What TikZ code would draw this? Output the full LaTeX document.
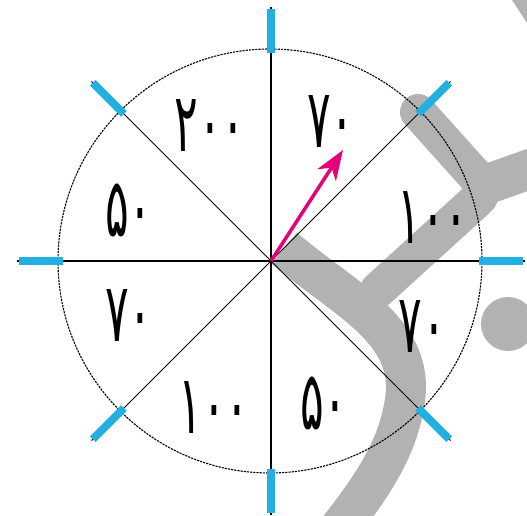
\documentclass[tikz,border=0pt]{standalone}
\usepackage{fontspec}
\usepackage{graphicx}
\newfontfamily\fafont[Script=Arabic]{DejaVu Sans}
\usetikzlibrary{arrows.meta}
\definecolor{tickc}{RGB}{35,175,225}
\definecolor{arrc}{RGB}{228,0,120}
\definecolor{wmc}{RGB}{178,178,178}
\tikzset{
  wmband/.style={draw=wmc, line width=36pt, line join=round, line cap=round},
  wmtail/.style={draw=wmc, line width=40pt, line cap=butt},
  circline/.style={draw=black, line width=1.1pt, dash pattern=on 2.2pt off 1pt},
  axisline/.style={draw=black, line width=1.4pt},
  diagline/.style={draw=black, line width=1pt},
  tickline/.style={draw=tickc, line width=8pt},
  arrline/.style={draw=arrc, line width=3.5pt, -{Stealth[length=30pt,width=22pt,inset=9pt]}},
  num/.style={font=\fafont\fontsize{42}{42}\selectfont, inner sep=0pt, anchor=center}
}
\newcommand{\tallnum}[1]{\scalebox{1.05}[1.95]{#1}}
\begin{document}
\begin{tikzpicture}[x=1pt,y=-1pt]
\useasboundingbox (0,0) rectangle (527,516);
\fill[white] (0,0) rectangle (527,516);
% watermark
\draw[wmband, rounded corners=14pt] (418,112) -- (488,190) -- (378,290);
\draw[wmband, line width=40pt] (482,186) -- (550,162);
\draw[wmtail] (284,248) .. controls (345,300) and (415,330) .. (405,400) .. controls (398,450) and (370,490) .. (330,540);
\fill[wmc] (508,324) circle (27pt);
\fill[wmc] (512,0) -- (527,0) -- (527,23) -- cycle;
% geometry
\coordinate (O) at (271,261);
\draw[circline] (270,261) circle (212pt);
\foreach \a in {0,45,...,315}{
  \path (O) ++(\a:254pt) coordinate (e\a);
  \path (O) ++(\a:208pt) coordinate (a\a);
  \path (O) ++(\a:252pt) coordinate (b\a);
}
\draw[diagline] (e45) -- (e225);
\draw[diagline] (e135) -- (e315);
\draw[axisline] (e0) -- (e180);
\draw[axisline] (e90) -- (e270);
\foreach \a in {0,45,...,315}{
  \draw[tickline] (a\a) -- (b\a);
}
\coordinate (tip) at (343,150);
\draw[arrline] (O) -- (tip);
% numbers
\node[num] (n1) at (210,126) {\tallnum{۲۰۰}};
\node[num] (n2) at (331,122) {\tallnum{۷۰}};
\node[num] (n3) at (129,210) {\tallnum{۵۰}};
\node[num] (n4) at (433,218) {\tallnum{۱۰۰}};
\node[num] (n5) at (129,316) {\tallnum{۷۰}};
\node[num] (n6) at (422,327) {\tallnum{۷۰}};
\node[num] (n7) at (214,408) {\tallnum{۱۰۰}};
\node[num] (n8) at (324,403) {\tallnum{۵۰}};
\end{tikzpicture}
\end{document}
